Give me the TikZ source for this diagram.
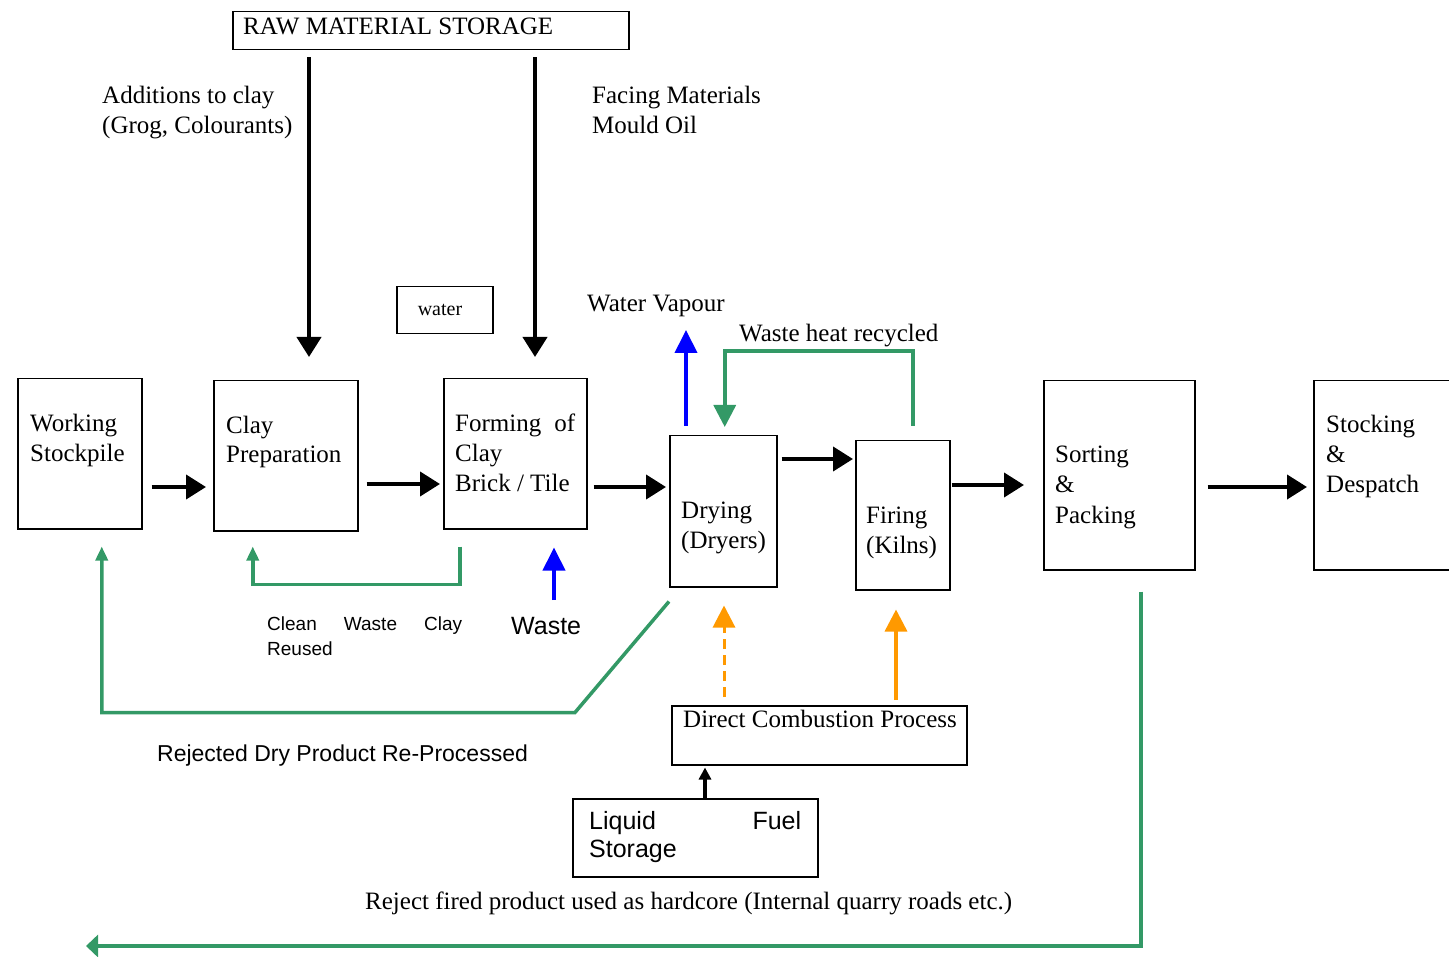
\documentclass[tikz,border=0pt]{standalone}
\usepackage{fontspec}
\setmainfont{Liberation Serif}
\newfontfamily\sansf{Liberation Sans}
\usetikzlibrary{arrows.meta}
\definecolor{grn}{RGB}{51,153,102}
\definecolor{orn}{RGB}{255,153,0}
\definecolor{blu}{RGB}{0,0,255}
\begin{document}
\begin{tikzpicture}[x=1pt,y=-1pt,
  box/.style={draw,line width=1.5pt,anchor=north west,inner sep=0pt},
  txt/.style={anchor=base west,inner sep=0pt,font=\fontsize{25}{30}\selectfont},
  stxt/.style={anchor=base west,inner sep=0pt,font=\sansf\fontsize{24}{28}\selectfont},
  blk/.style={line width=4pt,-{Triangle[length=20pt,width=24pt]}},
  blksmall/.style={line width=4pt,-{Triangle[length=12pt,width=12pt]}},
  grline/.style={grn,line width=3.5pt},
  grbig/.style={grline,-{Triangle[length=22pt,width=22pt]}},
  grsmall/.style={grline,-{Triangle[length=14pt,width=12pt]}},
  grwide/.style={grline,-{Triangle[length=12pt,width=22pt]}},
  blarrow/.style={blu,line width=4pt,-{Triangle[length=23pt,width=22pt]}},
  orarrow/.style={orn,line width=3.5pt,-{Triangle[length=22pt,width=22pt]}}]
\useasboundingbox (0,0) rectangle (1449,957);

% boxes
\node[box,minimum width=396,minimum height=38] (rw) at (232,11) {};
\node[box,minimum width=124,minimum height=150] (ws) at (17,378) {};
\node[box,minimum width=144,minimum height=150] (cp) at (213,380) {};
\node[box,minimum width=143,minimum height=150] (fo) at (443,378) {};
\node[box,minimum width=96,minimum height=47] (wt) at (396,286) {};
\node[box,minimum width=107,minimum height=151] (dr) at (669,435) {};
\node[box,minimum width=94,minimum height=149] (fi) at (855,440) {};
\node[box,minimum width=151,minimum height=189] (so) at (1043,380) {};
\begin{scope}
\clip (0,0) rectangle (1449,957);
\node[box,minimum width=160,minimum height=189] (st) at (1313,380) {};
\end{scope}
\node[box,minimum width=295,minimum height=59] (dc) at (671,705) {};
\node[box,minimum width=245,minimum height=78] (lf) at (572,798) {};

% texts
\node[txt] (trw) at (243,35) {RAW MATERIAL STORAGE};
\node[txt] (tad1) at (102,104) {Additions to clay};
\node[txt] (tad2) at (102,134) {(Grog, Colourants)};
\node[txt] (tfa1) at (592,104) {Facing Materials};
\node[txt] (tfa2) at (592,134) {Mould Oil};
\node[txt] (tws1) at (30,432) {Working};
\node[txt] (tws2) at (30,462) {Stockpile};
\node[txt] (tcp1) at (226,434) {Clay};
\node[txt] (tcp2) at (226,463) {Preparation};
\node[txt] (tfo1) at (455,432) {\makebox[120pt][s]{Forming of}};
\node[txt] (tfo2) at (455,462) {Clay};
\node[txt] (tfo3) at (455,491) {Brick / Tile};
\node[anchor=base,font=\fontsize{20}{24}\selectfont,inner sep=0pt] (twt) at (440,316) {water};
\node[txt] (twv) at (587,312) {Water Vapour};
\node[txt] (twh) at (739,342) {Waste heat recycled};
\node[txt] (tdr1) at (681,518) {Drying};
\node[txt] (tdr2) at (681,548) {(Dryers)};
\node[txt] (tfi1) at (866,523) {Firing};
\node[txt] (tfi2) at (866,553) {(Kilns)};
\node[txt] (tso1) at (1055,463) {Sorting};
\node[txt] (tso2) at (1055,493) {\&};
\node[txt] (tso3) at (1055,523) {Packing};
\node[txt] (tst1) at (1326,433) {Stocking};
\node[txt] (tst2) at (1326,463) {\&};
\node[txt] (tst3) at (1326,493) {Despatch};
\node[stxt,font=\sansf\fontsize{19}{25}\selectfont] (tcw1) at (267,630) {\makebox[195pt][s]{Clean Waste Clay}};
\node[stxt,font=\sansf\fontsize{19}{25}\selectfont] (tcw2) at (267,655) {Reused};
\node[stxt,font=\sansf\fontsize{25}{28}\selectfont] (twa) at (511,634) {Waste};
\node[stxt,font=\sansf\fontsize{23}{28}\selectfont] (trd) at (157,761) {Rejected Dry Product Re-Processed};
\node[txt] (tdc) at (683,727) {Direct Combustion Process};
\node[stxt,font=\sansf\fontsize{25}{28}\selectfont] (tlf1) at (589,829) {\makebox[212pt][s]{Liquid Fuel}};
\node[stxt,font=\sansf\fontsize{25}{28}\selectfont] (tlf2) at (589,857) {Storage};
\node[txt] (trf) at (365,909) {Reject fired product used as hardcore (Internal quarry roads etc.)};

% helper coordinates
\coordinate (h487) at (0,487);
\coordinate (h484) at (0,484);
\coordinate (h459) at (0,459);
\coordinate (h485) at (0,485);
\coordinate (v309) at (309,0);
\coordinate (v535) at (535,0);
\coordinate (v705) at (705,0);
\coordinate (v686) at (686,0);
\coordinate (v554) at (554,0);
\coordinate (v724) at (724,0);
\coordinate (v896) at (896,0);
\coordinate (wvTip) at (686,330);
\coordinate (waStart) at (554,600);
\coordinate (rfEnd) at (86,946);

% black flow arrows
\draw[blk,shorten <=9pt,shorten >=7pt] (ws.east |- h487) -- (cp.west |- h487);
\draw[blk,shorten <=8pt,shorten >=3pt] (cp.east |- h484) -- (fo.west |- h484);
\draw[blk,shorten <=6pt,shorten >=3pt] (fo.east |- h487) -- (dr.west |- h487);
\draw[blk,shorten <=4pt,shorten >=2pt] (dr.east |- h459) -- (fi.west |- h459);
\draw[blk,shorten <=1pt,shorten >=19pt] (fi.east |- h485) -- (so.west |- h485);
\draw[blk,shorten <=12pt,shorten >=6pt] (so.east |- h487) -- (st.west |- h487);
\draw[blk,shorten <=7pt,shorten >=23pt] (rw.south -| v309) -- (cp.north -| v309);
\draw[blk,shorten <=7pt,shorten >=21pt] (rw.south -| v535) -- (fo.north -| v535);
\draw[blksmall,shorten >=2pt] (lf.north -| v705) -- (dc.south -| v705);

% blue
\draw[blarrow,shorten <=9pt] (dr.north -| v686) -- (wvTip);
\draw[blarrow,shorten >=18pt] (waStart) -- (fo.south -| v554);

% green
\draw[grbig] ([xshift=10pt,yshift=14pt]fi.north) -- ++(0,-75) -| ([xshift=1.5pt,yshift=8pt]dr.north);
\draw[grsmall] ([xshift=-55.5pt,yshift=-17pt]fo.south) -- ++(0,38) -| ([xshift=-33pt,yshift=-15pt]cp.south);
\draw[grsmall] ([yshift=-14pt]dr.south west) -- ++(-94,111) -| ([xshift=22pt,yshift=-17pt]ws.south);
\draw[grwide] ([xshift=21.5pt,yshift=-21pt]so.south) |- (rfEnd);

% orange
\draw[orarrow,dashed,dash pattern=on 10pt off 6pt,line width=3pt,shorten <=8pt,shorten >=18pt] (dc.north -| v724) -- (dr.south -| v724);
\draw[orarrow,shorten <=5pt,shorten >=19pt] (dc.north -| v896) -- (fi.south -| v896);
\end{tikzpicture}
\end{document}
